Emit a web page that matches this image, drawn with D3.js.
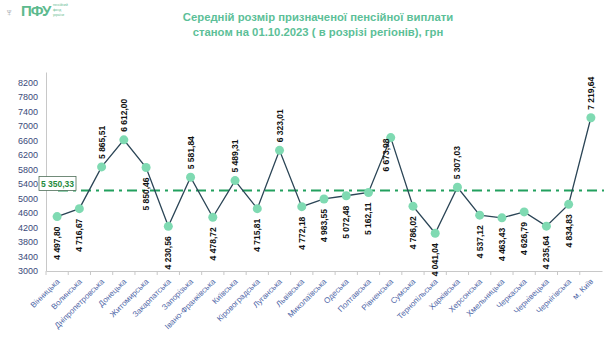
<!DOCTYPE html>
<html>
<head>
<meta charset="utf-8">
<script src="https://cdn.jsdelivr.net/npm/d3@7"></script>
<style>
  body { margin: 0; background: #fff; }
  svg { font-family: "Liberation Sans", Arial, sans-serif; }
</style>
</head>
<body>
<div id="chart"></div>
<script>
// Regions (x axis)
const regions = ["Вінницька", "Волинська", "Дніпропетровська", "Донецька", "Житомирська",
    "Закарпатська", "Запорізька", "Івано-Франківська", "Київська", "Кіровоградська",
    "Луганська", "Львівська", "Миколаївська", "Одеська", "Полтавська", "Рівненська",
    "Сумська", "Тернопільська", "Харківська", "Херсонська", "Хмельницька", "Черкаська",
    "Чернівецька", "Чернігівська", "м. Київ"]

// Average pension, UAH
const values = [4497.80, 4716.67, 5865.51, 6612.00, 5850.46, 4230.56, 5581.84, 4478.72,
    5489.31, 4715.81, 6323.01, 4772.18, 4983.55, 5072.48, 5162.11, 6673.98, 4786.02,
    4041.04, 5307.03, 4537.12, 4463.43, 4626.79, 4235.64, 4834.83, 7219.64]

// Value labels text (as printed)
const valueLabels = ["4 497,80", "4 716,67", "5 865,51", "6 612,00", "5 850,46", "4 230,56",
    "5 581,84", "4 478,72", "5 489,31", "4 715,81", "6 323,01", "4 772,18", "4 983,55",
    "5 072,48", "5 162,11", "6 673,98", "4 786,02", "4 041,04", "5 307,03", "4 537,12",
    "4 463,43", "4 626,79", "4 235,64", "4 834,83", "7 219,64"]

const yTicks = [3000, 3400, 3800, 4200, 4600, 5000, 5400, 5800, 6200, 6600, 7000, 7400, 7800, 8200]

const averageText = "5 350,33"
const averageLineValue = 5215   // where the dash-dot line sits in the picture

const titleLines = ["Середній розмір призначеної пенсійної виплати",
    "станом на 01.10.2023 ( в розрізі регіонів), грн"]

// where each value label goes relative to its point
const labelSide = ["b", "b", "a", "a", "b", "b", "a", "b", "a", "b", "a", "b", "b",
    "b", "b", "l", "b", "b", "a", "b", "b", "b", "b", "b", "a"]

const width = 608
const height = 349
const margin = { left: 46, right: 6, top: 72, bottom: 78 }

const svg = d3.select("#chart").append("svg")
    .attr("width", width)
    .attr("height", height)

// Logo
const logo = svg.append("g")
logo.append("text").attr("x", 5).attr("y", 16)
    .attr("font-size", 11).attr("fill", "#9aa0a6").text("♆")
logo.append("text").attr("x", 21).attr("y", 16)
    .attr("font-size", 15).attr("font-weight", "bold").attr("fill", "#5dba8e")
    .attr("letter-spacing", -1).text("ПФУ")
const logoSmall = ["пенсійний", "фонд", "україни"]
logo.selectAll(".ls").data(logoSmall).join("text")
    .attr("x", 53).attr("y", (d, i) => 6 + i * 5)
    .attr("font-size", 3.2).attr("fill", "#5dba8e").text(d => d)

// Title
svg.selectAll(".title").data(titleLines).join("text")
    .attr("class", "title")
    .attr("x", 318)
    .attr("y", (d, i) => 21 + i * 15)
    .attr("text-anchor", "middle")
    .attr("font-size", 11.3)
    .attr("font-weight", "bold")
    .attr("fill", "#5cbf98")
    .text(d => d)

const xScale = d3.scaleBand()
    .domain(regions)
    .range([margin.left, width - margin.right])

const yScale = d3.scaleLinear()
    .domain([3000, 8480])
    .range([height - margin.bottom, margin.top])

// Y axis
const yAxis = svg.append("g")
    .attr("transform", `translate(${margin.left}, 0)`)
    .call(d3.axisLeft(yScale).tickValues(yTicks).tickSize(0).tickPadding(8).tickFormat(d => d))
yAxis.select(".domain").attr("stroke", "#c8c8c8")
yAxis.selectAll("text").attr("font-size", 9).attr("fill", "#3b4a7a")
    .attr("font-family", "'Liberation Sans', Arial, sans-serif")

// X axis
const xAxis = svg.append("g")
    .attr("transform", `translate(0, ${height - margin.bottom})`)
    .call(d3.axisBottom(xScale).tickSize(0).tickFormat(""))
xAxis.select(".domain").attr("stroke", "#c8c8c8")
xAxis.selectAll(".sep").data(regions).join("line")
    .attr("class", "sep")
    .attr("x1", d => xScale(d)).attr("x2", d => xScale(d))
    .attr("y1", 0).attr("y2", 4)
    .attr("stroke", "#c8c8c8")

svg.selectAll(".xlab").data(regions).join("text")
    .attr("class", "xlab")
    .attr("transform", d => `translate(${xScale(d) + xScale.bandwidth() / 2 + 3}, ${height - margin.bottom + 11}) rotate(-45)`)
    .attr("text-anchor", "end")
    .attr("font-size", 8)
    .attr("fill", "#5068a8")
    .text(d => d)

// Average line
svg.append("line")
    .attr("x1", xScale(regions[0]) + 12)
    .attr("x2", width - 4)
    .attr("y1", yScale(averageLineValue))
    .attr("y2", yScale(averageLineValue))
    .attr("stroke", "#22a05e")
    .attr("stroke-width", 2)
    .attr("stroke-dasharray", "10,5,3,5")

// Data line
const line = d3.line()
    .x((d, i) => xScale(regions[i]) + xScale.bandwidth() / 2)
    .y(d => yScale(d))

svg.append("path")
    .datum(values)
    .attr("fill", "none")
    .attr("stroke", "#2b4556")
    .attr("stroke-width", 1.3)
    .attr("d", line)

svg.selectAll(".pt").data(values).join("circle")
    .attr("class", "pt")
    .attr("cx", (d, i) => xScale(regions[i]) + xScale.bandwidth() / 2)
    .attr("cy", d => yScale(d))
    .attr("r", 4.5)
    .attr("fill", "#7fdab2")

// Value labels
svg.selectAll(".vlab").data(values).join("text")
    .attr("class", "vlab")
    .attr("transform", (d, i) => {
        const cx = xScale(regions[i]) + xScale.bandwidth() / 2
        const cy = yScale(d)
        if (labelSide[i] === "a") return `translate(${cx + 3}, ${cy - 8}) rotate(-90)`
        if (labelSide[i] === "l") return `translate(${cx - 2}, ${cy + 34}) rotate(-90)`
        return `translate(${cx + 3}, ${cy + 10}) rotate(-90)`
    })
    .attr("text-anchor", (d, i) => labelSide[i] === "b" ? "end" : "start")
    .attr("font-size", 8.5)
    .attr("font-weight", "bold")
    .attr("fill", "#111")
    .text((d, i) => valueLabels[i])

// Average label box
const box = svg.append("g")
box.append("rect")
    .attr("x", 39).attr("y", yScale(averageLineValue) - 14)
    .attr("width", 37).attr("height", 14)
    .attr("fill", "#fff")
    .attr("stroke", "#4e6e58")
    .attr("stroke-width", 0.8)
box.append("text")
    .attr("x", 57.5).attr("y", yScale(averageLineValue) - 4)
    .attr("text-anchor", "middle")
    .attr("font-size", 8.5)
    .attr("font-weight", "bold")
    .attr("fill", "#1f8a3c")
    .text(averageText)
</script>
</body>
</html>
